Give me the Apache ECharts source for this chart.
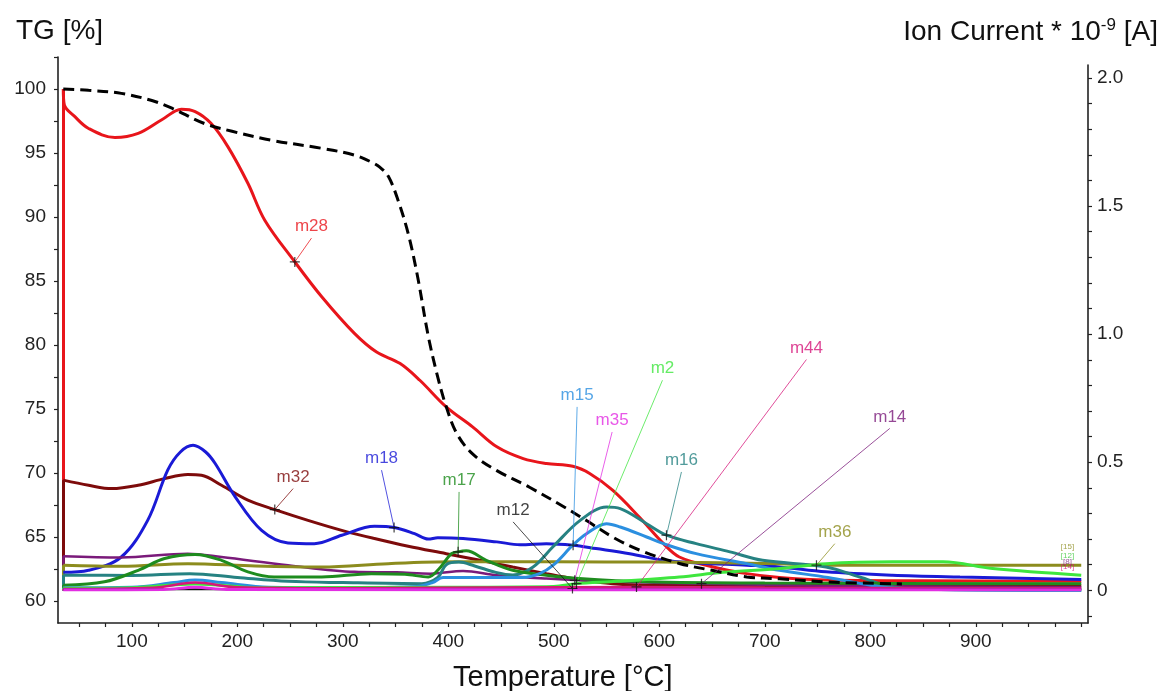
<!DOCTYPE html>
<html>
<head>
<meta charset="utf-8">
<script src="https://cdn.jsdelivr.net/npm/echarts@6/dist/echarts.min.js"></script>
<style>
html,body{margin:0;padding:0;background:#fff;}
#chart{width:1168px;height:691px;}
</style>
</head>
<body>
<div id="chart"></div>
<script>
// ---------- DATA ----------
const xTickValues = [];
for (let t = 50; t <= 1000; t += 25) xTickValues.push(t);
const xLabelValues = [100, 200, 300, 400, 500, 600, 700, 800, 900];
const tgTickValues = [];
for (let v = 60; v <= 102.5; v += 2.5) tgTickValues.push(v);
const tgLabelValues = [60, 65, 70, 75, 80, 85, 90, 95, 100];
const ionTickValues = [];
for (let i = -1; i <= 20; i++) ionTickValues.push(+(i / 10).toFixed(1));
const ionLabelValues = [0, 0.5, 1.0, 1.5, 2.0];

// TG curve [%] (left axis)
const tg = [[35,100],[59,99.9],[90,99.66],[119,99.1],[138,98.5],[169,97.3],[195,96.7],[232,96.0],[280,95.37],[311,94.84],[327,94.3],[335,93.9],[343,93.2],[352,91.4],[362,88.7],[371,85.3],[381,80.7],[390,77.5],[398,75.2],[408,73.1],[423,71.5],[446,70.2],[477,68.9],[509,67.4],[531,66.3],[556,65.0],[581,64.0],[619,62.95],[651,62.4],[683,61.9],[714,61.75],[760,61.5],[830,61.35]];

// Ion currents * 1e-9 A (right axis); every curve rises from 0 at the start temperature
const startT = 35;
const m28 = [[35,1.957],[36,1.895],[46,1.849],[59,1.803],[84,1.768],[106,1.784],[128,1.836],[147,1.878],[160,1.869],[175,1.823],[191,1.732],[210,1.589],[226,1.445],[254.5,1.282],[280,1.146],[311,1.003],[332,0.93],[354,0.886],[373,0.82],[398,0.716],[423,0.638],[446,0.56],[471,0.514],[493,0.495],[518,0.484],[534,0.456],[556,0.39],[581,0.286],[604,0.182],[619,0.13],[651,0.091],[683,0.065],[714,0.05],[760,0.04],[850,0.037],[1000,0.035]];
const m32 = [[35,0.43],[59,0.41],[81,0.397],[106,0.41],[131,0.436],[153,0.452],[166,0.449],[185,0.41],[210,0.352],[235.5,0.315],[267,0.273],[299,0.234],[330,0.202],[362,0.172],[398,0.143],[430,0.117],[461,0.091],[493,0.065],[518,0.046],[556,0.026],[600,0.02],[1000,0.018]];
const m18 = [[35,0.07],[59,0.078],[90,0.13],[115,0.273],[134,0.469],[146,0.54],[158,0.566],[170,0.54],[179,0.495],[198,0.365],[223,0.234],[248,0.185],[273,0.182],[299,0.215],[330,0.25],[349,0.245],[368,0.221],[381,0.2],[390,0.205],[414,0.202],[446,0.189],[468,0.178],[493,0.182],[518,0.176],[540,0.163],[572,0.143],[604,0.117],[635,0.107],[683,0.098],[714,0.091],[758,0.072],[821,0.059],[885,0.052],[1000,0.042]];
const m14 = [[35,0.133],[90,0.128],[153,0.143],[185,0.13],[248,0.098],[311,0.072],[351,0.07],[383,0.065],[414,0.075],[446,0.059],[493,0.046],[550,0.035],[640,0.026],[750,0.018],[1000,0.012]];
const m36 = [[35,0.098],[90,0.094],[153,0.104],[217,0.095],[280,0.091],[343,0.104],[406,0.111],[500,0.111],[600,0.11],[714,0.104],[749,0.098],[850,0.098],[1000,0.098]];
const m16 = [[35,0.059],[100,0.058],[155,0.065],[200,0.05],[248,0.035],[300,0.03],[375,0.026],[390,0.05],[398,0.1],[410,0.11],[425,0.095],[445,0.07],[461,0.06],[480,0.09],[499,0.169],[525,0.273],[550,0.325],[563,0.319],[588,0.26],[607,0.215],[635,0.182],[667,0.15],[698,0.117],[758,0.091],[790,0.052],[821,0.013],[853,0.004],[1000,0]];
const m17 = [[35,0.02],[74,0.033],[106,0.078],[131,0.124],[160,0.14],[185,0.117],[210,0.072],[235,0.052],[280,0.052],[327,0.065],[359,0.0625],[381,0.052],[390,0.078],[403,0.143],[409,0.15],[417,0.154],[436,0.117],[461,0.078],[493,0.059],[524,0.046],[588,0.033],[700,0.028],[1000,0.026]];
const m15 = [[35,0.01],[100,0.012],[140,0.03],[160,0.04],[185,0.03],[230,0.012],[300,0.01],[370,0.015],[385,0.03],[395,0.05],[440,0.05],[470,0.05],[487,0.066],[500,0.1],[518,0.176],[531,0.221],[550,0.26],[563,0.247],[588,0.208],[604,0.182],[635,0.143],[683,0.104],[714,0.078],[760,0.05],[800,0.02],[830,0.005],[1000,0]];
const m2 = [[35,0.008],[100,0.01],[160,0.025],[220,0.01],[400,0.012],[500,0.015],[521,0.026],[560,0.035],[619,0.052],[660,0.07],[714,0.085],[758,0.104],[821,0.111],[869,0.111],[916,0.085],[1000,0.059]];
const m44 = [[35,0.005],[120,0.01],[160,0.03],[200,0.012],[300,0.008],[578,0.013],[700,0.01],[1000,0.008]];
const m12 = [[35,0.004],[1000,0.004]];
const m35 = [[35,0.002],[130,0.003],[160,0.012],[190,0.003],[1000,0.002]];

// Annotation labels: name, leader start (data coords), marker point on curve (data coords)
const annNames  = ['m28','m32','m18','m17','m12','m15','m35','m2','m16','m44','m14','m36'];
const annStarts = [[270.3,1.375],[252.9,0.397],[336.7,0.469],[410.2,0.384],[461.4,0.267],[522.1,0.716],[555.3,0.618],[603,0.82],[621,0.462],[739.5,0.901],[818.5,0.632],[766.4,0.182]];
const annPoints = [[254.5,1.282],[235.5,0.315],[348.6,0.245],[409.3,0.15],[517.7,0.007],[518.3,0.176],[519.9,0.039],[521.5,0.026],[606.8,0.215],[578.4,0.013],[640,0.026],[749,0.098]];
const endTagNames  = ['[15]','[12]','[8]','[14]'];
const endTagPoints = [[987,0.168],[987,0.135],[987,0.112],[987,0.09]];

// ---------- STYLE ----------
const FONT = 'Liberation Sans, Arial, Helvetica, sans-serif';
const colors = {
  m28:'#e8151b', m32:'#7d0b0b', m18:'#1a1ad6', m14:'#7a1a7a', m36:'#8c8c1e',
  m16:'#268282', m17:'#1e8c1e', m15:'#2b8fe0', m2:'#3ee63e', m44:'#d6177a',
  m12:'#111111', m35:'#e22de2'
};
const tagColors = ['#8c8c1e','#3ec83e','#7a1a7a','#d6177a'];

const ionSeries = [
  ['m28', m28, 3], ['m32', m32, 3], ['m18', m18, 3], ['m14', m14, 2.5], ['m36', m36, 3],
  ['m16', m16, 3], ['m17', m17, 3], ['m15', m15, 3], ['m2', m2, 3], ['m44', m44, 2.5],
  ['m12', m12, 2], ['m35', m35, 3]
];

const series = [];
// start-up vertical segments (from 0 up to each curve's first value)
series.push({
  type: 'lines', coordinateSystem: 'cartesian2d', xAxisIndex: 1, yAxisIndex: 1,
  data: ionSeries.map(([name, data, w]) => ({ coords: [[startT, 0], data[0]], lineStyle: { color: colors[name], width: w } })),
  lineStyle: { opacity: 1 }, silent: true, z: 2
});
ionSeries.forEach(([name, data, w]) => series.push({
  name, type: 'line', xAxisIndex: 1, yAxisIndex: 1, data,
  showSymbol: false, smooth: 0.35,
  lineStyle: { color: colors[name], width: w }, z: 2
}));

series.push({
  name: 'TG', type: 'line', xAxisIndex: 0, yAxisIndex: 0, data: tg,
  showSymbol: false, smooth: 0.35,
  lineStyle: { color: '#000', width: 3, type: [11, 6] }, z: 3
});

series.push({
  type: 'lines', coordinateSystem: 'cartesian2d', xAxisIndex: 1, yAxisIndex: 1,
  data: annNames.map((n, i) => ({ coords: [annStarts[i], annPoints[i]], lineStyle: { color: colors[n] } })),
  lineStyle: { width: 0.9, opacity: 0.85 }, silent: true, z: 4
});

series.push({
  type: 'scatter', xAxisIndex: 1, yAxisIndex: 1,
  data: annPoints,
  symbol: 'path://M4.4,0h1.2v4.4h4.4v1.2h-4.4v4.4h-1.2v-4.4h-4.4v-1.2h4.4z',
  symbolSize: 10, itemStyle: { color: '#111' }, silent: true, z: 5
});

series.push({
  type: 'scatter', xAxisIndex: 1, yAxisIndex: 1,
  data: annNames.map((n, i) => ({ value: annStarts[i], name: n, label: { color: colors[n] } })),
  symbolSize: 0,
  label: { show: true, position: 'top', distance: 3, formatter: p => p.name, fontFamily: FONT, fontSize: 17 },
  silent: true, z: 6
});

series.push({
  type: 'scatter', xAxisIndex: 1, yAxisIndex: 1,
  data: endTagNames.map((n, i) => ({ value: endTagPoints[i], name: n, label: { color: tagColors[i] } })),
  symbolSize: 0,
  label: { show: true, position: 'inside', formatter: p => p.name, fontFamily: FONT, fontSize: 8 },
  silent: true, z: 6
});

const axisLineStyle = { show: true, lineStyle: { color: '#222', width: 1.6 } };
const tickStyle = { lineStyle: { color: '#222', width: 1.2 } };

const option = {
  animation: false,
  backgroundColor: '#fff',
  title: [
    { text: 'TG [%]', left: 11, top: 12, textStyle: { fontFamily: FONT, fontSize: 28, fontWeight: 'normal', color: '#111' } },
    { text: 'Ion Current * 10{sup|-9} [A]', right: 5, top: 12,
      textStyle: { fontFamily: FONT, fontSize: 28, fontWeight: 'normal', color: '#111',
        rich: { sup: { fontFamily: FONT, fontSize: 17, color: '#111', verticalAlign: 'top', padding: [0, 0, 14, 0] } } } },
    { text: 'Temperature [°C]', left: 448, top: 658, textStyle: { fontFamily: FONT, fontSize: 29, fontWeight: 'normal', color: '#111' } }
  ],
  grid: [
    { left: 58, right: 80, top: 57, bottom: 68 },
    { left: 58, right: 80, top: 65, bottom: 68 }
  ],
  xAxis: [
    { type: 'value', gridIndex: 0, min: 30, max: 1006.4, splitLine: { show: false },
      axisLine: axisLineStyle,
      axisTick: { show: true, inside: false, length: 4, customValues: xTickValues, ...tickStyle },
      axisLabel: { customValues: xLabelValues, fontFamily: FONT, fontSize: 19, color: '#222', margin: 9 } },
    { type: 'value', gridIndex: 1, min: 30, max: 1006.4, show: false, splitLine: { show: false } }
  ],
  yAxis: [
    { type: 'value', gridIndex: 0, position: 'left', min: 58.3, max: 102.5, splitLine: { show: false },
      axisLine: axisLineStyle,
      axisTick: { show: true, inside: false, length: 4, customValues: tgTickValues, ...tickStyle },
      axisLabel: { customValues: tgLabelValues, fontFamily: FONT, fontSize: 19, color: '#222', margin: 12 } },
    { type: 'value', gridIndex: 1, position: 'right', min: -0.1277, max: 2.0508, splitLine: { show: false },
      axisLine: axisLineStyle,
      axisTick: { show: true, inside: false, length: 4, customValues: ionTickValues, ...tickStyle },
      axisLabel: { customValues: ionLabelValues, fontFamily: FONT, fontSize: 19, color: '#222', margin: 9,
        formatter: v => (Math.abs(v) < 1e-9 ? '0' : v.toFixed(1)) } }
  ],
  series
};

const chart = echarts.init(document.getElementById('chart'), null, { renderer: 'canvas' });
chart.setOption(option);
</script>
</body>
</html>
